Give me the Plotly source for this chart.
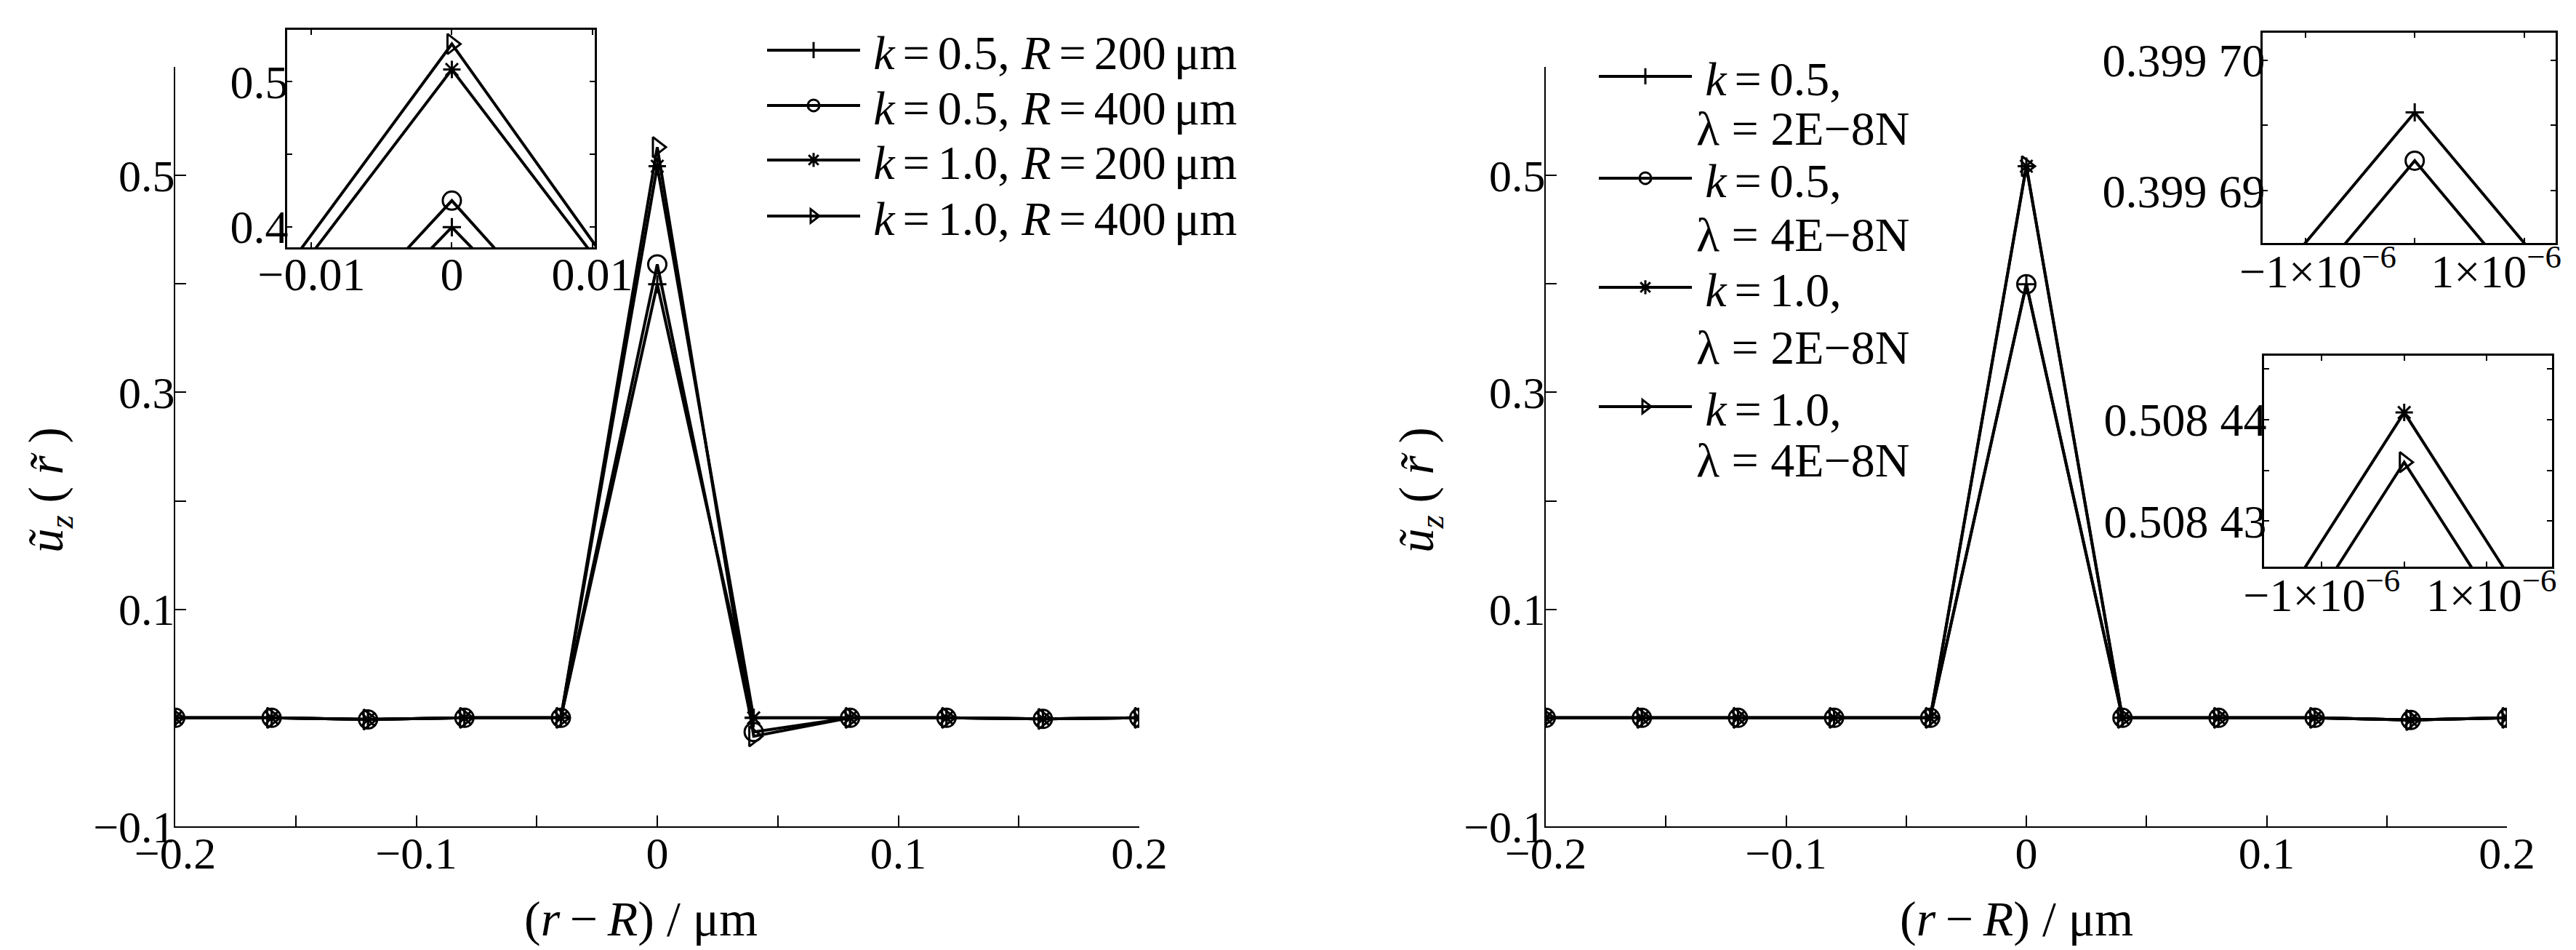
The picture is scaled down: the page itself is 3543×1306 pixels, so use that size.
import plotly.graph_objects as go

# ---------------- data ----------------
x_r = [-0.2, -0.16, -0.12, -0.08, -0.04, 0.0, 0.04, 0.08, 0.12, 0.16, 0.2]

# left panel (k, R)
uz_k05_R200 = [0, 0, -0.0015, 0, 0, 0.39969, 0, 0, 0, -0.001, 0]
uz_k05_R400 = [0, 0, -0.0015, 0, 0, 0.418, -0.013, 0, 0, -0.001, 0]
uz_k10_R200 = [0, 0, -0.0015, 0, 0, 0.50844, 0, 0, 0, -0.001, 0]
uz_k10_R400 = [0, 0, -0.0015, 0, 0, 0.526, -0.017, 0, 0, -0.001, 0]
left_k = ["0.5", "0.5", "1.0", "1.0"]
left_R = ["200", "400", "200", "400"]

# right panel (k, lambda)
uz_k05_l2 = [0, 0, 0, 0, 0, 0.3996960, 0, 0, 0, -0.002, 0]
uz_k05_l4 = [0, 0, 0, 0, 0, 0.3996923, 0, 0, 0, -0.002, 0]
uz_k10_l2 = [0, 0, 0, 0, 0, 0.5084407, 0, 0, 0, -0.002, 0]
uz_k10_l4 = [0, 0, 0, 0, 0, 0.5084358, 0, 0, 0, -0.002, 0]
right_k = ["0.5", "0.5", "1.0", "1.0"]
right_lam = ["2E\u22128N", "4E\u22128N", "2E\u22128N", "4E\u22128N"]

# ticks
main_xticks = [-0.2, -0.15, -0.1, -0.05, 0, 0.05, 0.1, 0.15, 0.2]
main_xtext = ["\u22120.2", "", "\u22120.1", "", "0", "", "0.1", "", "0.2"]
main_yticks = [-0.1, 0, 0.1, 0.2, 0.3, 0.4, 0.5, 0.6]
main_ytext = ["\u22120.1", "", "0.1", "", "0.3", "", "0.5", ""]
inL_xticks = [-0.01, 0, 0.01]
inL_xtext = ["\u22120.01", "0", "0.01"]
inL_yticks = [0.4, 0.45, 0.5]
inL_ytext = ["0.4", "", "0.5"]
inR_xticks = [-1e-6, 0, 1e-6]
inR1_xtext = ["\u2004\u2009\u22121\u00d710<sup>\u22126</sup>", "",
              "1\u00d710<sup>\u22126</sup>\u2003\u2009"]
inR2_xtext = ["\u22121\u00d710<sup>\u22126</sup>", "", "\u20091\u00d710<sup>\u22126</sup>"]
inR1_yticks = [0.39969, 0.399695, 0.39970]
inR1_ytext = ["0.399 69", "", "0.399 70"]
inR2_yticks = [0.50843, 0.508435, 0.50844, 0.508445]
inR2_ytext = ["0.508 43", "", "0.508 44", ""]

SYMBOLS = ["cross-thin-open", "circle-open", "asterisk-open", "triangle-right-open"]
SIZES = [18, 25, 20, 24]

# ---------------- layout helpers ----------------
W, H = 3543, 1306
FONT = "Liberation Serif"
def fx(p):
    return p / W
def fy(p):
    return 1 - p / H

TS = "\u2006"  # thin space

fig = go.Figure()

left_series = [uz_k05_R200, uz_k05_R400, uz_k10_R200, uz_k10_R400]
right_series = [uz_k05_l2, uz_k05_l4, uz_k10_l2, uz_k10_l4]

def add(xs, ys, i, xa, ya, name=None, legend=None):
    fig.add_trace(go.Scatter(
        x=xs, y=ys, mode="lines+markers", xaxis=xa, yaxis=ya,
        name=name or "", showlegend=legend is not None,
        legend=legend if legend else "legend",
        line=dict(color="black", width=4),
        marker=dict(symbol=SYMBOLS[i], size=SIZES[i], color="black",
                    line=dict(color="black", width=3)),
        cliponaxis=True,
    ))

for i, ys in enumerate(left_series):
    nm = f"\u2009<i>k</i>{TS}={TS}{left_k[i]}, <i>R</i>{TS}={TS}{left_R[i]}{TS}\u03bcm"
    add(x_r, ys, i, "x", "y", nm, "legend" if i == 0 else f"legend{i+1}")
for i, ys in enumerate(left_series):
    add(x_r, ys, i, "x2", "y2")
for i, ys in enumerate(right_series):
    nm = f"\u2009<i>k</i>{TS}={TS}{right_k[i]},"
    add(x_r, ys, i, "x3", "y3", nm, f"legend{i+5}")
for i in (0, 1):
    add(x_r, right_series[i], i, "x4", "y4")
for i in (2, 3):
    add(x_r, right_series[i], i, "x5", "y5")

ax = dict(showline=True, linecolor="black", linewidth=2, ticks="inside",
          tickcolor="black", tickwidth=2, showgrid=False, zeroline=False,
          automargin=False, ticklabeloverflow="allow",
          tickfont=dict(family=FONT, size=62, color="black"))
inset_font = dict(family=FONT, size=64, color="black")

main_ydom = [fy(1136), fy(92)]
layout = dict(
    template="none",
    width=W, height=H, margin=dict(l=0, r=0, t=0, b=0, pad=0, autoexpand=False),
    paper_bgcolor="white", plot_bgcolor="rgba(0,0,0,0)",
    font=dict(family=FONT, color="black"),
    xaxis=dict(ax, domain=[fx(241), fx(1567)], range=[-0.2, 0.2], anchor="y",
               tickvals=main_xticks, ticktext=main_xtext, ticklen=15, ticklabelstandoff=-18),
    yaxis=dict(ax, domain=main_ydom, range=[-0.1, 0.6], anchor="x",
               tickvals=main_yticks, ticktext=main_ytext, ticklen=15, ticklabelstandoff=-14),
    xaxis3=dict(ax, domain=[fx(2126), fx(3448)], range=[-0.2, 0.2], anchor="y3",
                tickvals=main_xticks, ticktext=main_xtext, ticklen=15, ticklabelstandoff=-18),
    yaxis3=dict(ax, domain=main_ydom, range=[-0.1, 0.6], anchor="x3",
                tickvals=main_yticks, ticktext=main_ytext, ticklen=15, ticklabelstandoff=-14),
    # left inset
    xaxis2=dict(ax, domain=[fx(395), fx(818)], range=[-0.01173, 0.01018], anchor="y2",
                mirror="ticks", tickvals=inL_xticks, ticktext=inL_xtext, ticklen=7,
                linewidth=2.5, tickfont=inset_font, ticklabelstandoff=-21),
    yaxis2=dict(ax, domain=[fy(340), fy(41)], range=[0.38581, 0.53576], anchor="x2",
                mirror="ticks", tickvals=inL_yticks, ticktext=inL_ytext, ticklen=7,
                linewidth=2.5, tickfont=inset_font, ticklabelstandoff=-17),
    # right top inset
    xaxis4=dict(ax, domain=[fx(3112), fx(3515)], range=[-1.391e-6, 1.289e-6], anchor="y4",
                mirror="ticks", tickvals=inR_xticks, ticktext=inR1_xtext, ticklen=7,
                linewidth=2.5, tickfont=inset_font, ticklabelstandoff=-19),
    yaxis4=dict(ax, domain=[fy(334), fy(45)], range=[0.3996860, 0.3997021], anchor="x4",
                mirror="ticks", tickvals=inR1_yticks, ticktext=inR1_ytext, ticklen=7,
                linewidth=2.5, tickfont=inset_font, ticklabelstandoff=-19),
    # right bottom inset
    xaxis5=dict(ax, domain=[fx(3114), fx(3510)], range=[-1.698e-6, 1.791e-6], anchor="y5",
                mirror="ticks", tickvals=inR_xticks, ticktext=inR2_xtext, ticklen=7,
                linewidth=2.5, tickfont=inset_font, ticklabelstandoff=-19),
    yaxis5=dict(ax, domain=[fy(779), fy(489)], range=[0.5084255, 0.5084463], anchor="x5",
                mirror="ticks", tickvals=inR2_yticks, ticktext=inR2_ytext, ticklen=7,
                linewidth=2.5, tickfont=inset_font, ticklabelstandoff=-19),
    showlegend=True,
)

def leg(xpx, ypx):
    return dict(x=fx(xpx), y=fy(ypx), xanchor="left", yanchor="middle",
                bgcolor="rgba(0,0,0,0)", borderwidth=0, itemwidth=128,
                font=dict(family=FONT, size=66, color="black"))

left_rows = [69, 145, 220, 297]
right_rows = [105, 245, 395, 559]
for i, r in enumerate(left_rows):
    layout["legend" if i == 0 else f"legend{i+1}"] = leg(1050, r)
for i, r in enumerate(right_rows):
    layout[f"legend{i+5}"] = leg(2194, r)

fig.update_layout(**layout)

ann = []
lam_rows = [176, 322, 477, 633]
for i, r in enumerate(lam_rows):
    ann.append(dict(x=fx(2331), y=fy(r), xref="paper", yref="paper", xanchor="left",
                    yanchor="middle", showarrow=False,
                    text=f"\u03bb = {right_lam[i]}",
                    font=dict(family=FONT, size=66, color="black")))
ytitle = "<i>\u0169</i><sub><i>z</i></sub>\u2005(\u2005<i>r\u0303</i>\u2005)"
xtitle = "(<i>r</i>\u2009\u2212\u2009<i>R</i>) / \u03bcm"
for xc in (68, 1953):
    ann.append(dict(x=fx(xc), y=fy(674), xref="paper", yref="paper", textangle=-90,
                    xanchor="center", yanchor="middle", showarrow=False, text=ytitle,
                    font=dict(family=FONT, size=67, color="black")))
for xc in (881, 2773):
    ann.append(dict(x=fx(xc), y=fy(1263), xref="paper", yref="paper",
                    xanchor="center", yanchor="middle", showarrow=False, text=xtitle,
                    font=dict(family=FONT, size=68, color="black")))
fig.update_layout(annotations=ann)

fig.write_html("out.html", config={"displayModeBar": False},
               post_script="document.body.style.margin='0px';")
